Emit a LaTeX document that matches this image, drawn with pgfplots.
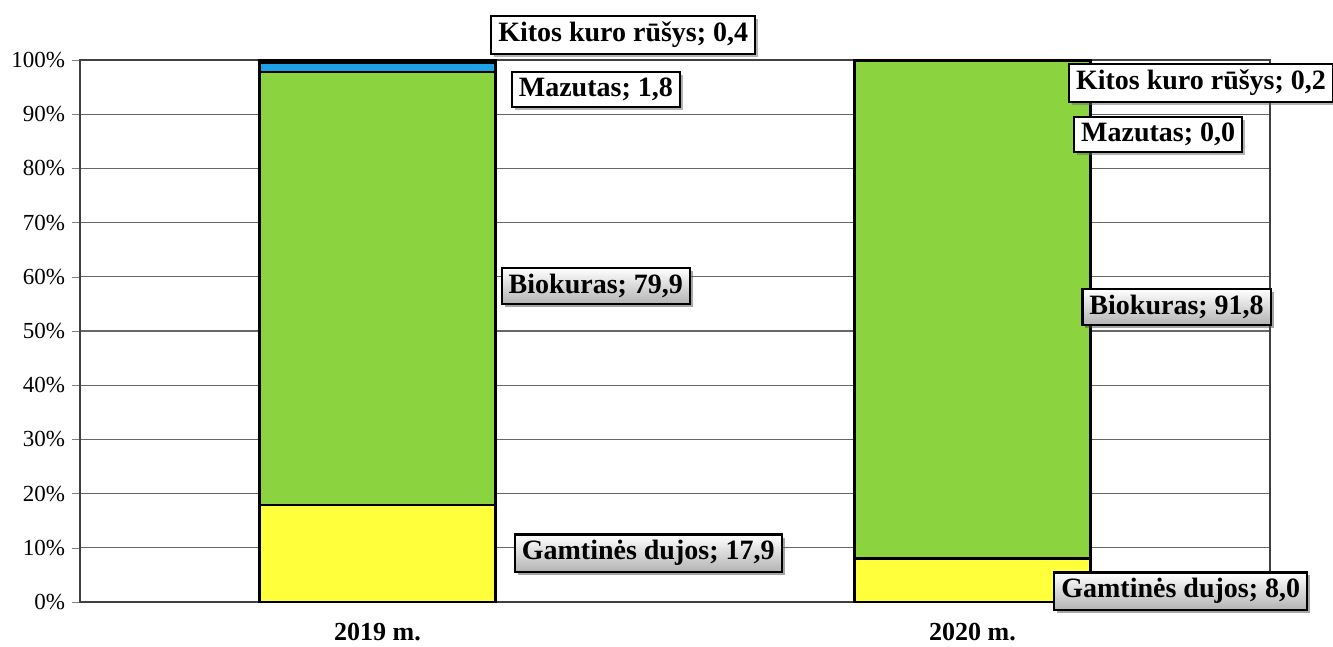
\documentclass[border=0pt]{standalone}
\usepackage{pgfplots}
\pgfplotsset{compat=1.18}
\usepackage{fontspec}
\setmainfont{Liberation Serif}
\usetikzlibrary{shadows}
\definecolor{cgas}{HTML}{FFFF3C}
\definecolor{cbio}{HTML}{8CD43F}
\definecolor{cmaz}{HTML}{1EA0E6}
\definecolor{ckit}{HTML}{5A3C78}
\begin{document}
\begin{tikzpicture}
\useasboundingbox (-40pt,-22.5pt) rectangle (626.5pt,301pt);
\begin{axis}[
  at={(0,0)}, anchor=south west,
  scale only axis, width=595pt, height=271pt,
  ybar stacked, bar width=118pt,
  xmin=-0.5, xmax=1.5, ymin=0, ymax=100,
  xtick={0,1}, xticklabels={2019 m.,2020 m.},
  x tick label style={font=\bfseries\fontsize{13}{14}\selectfont, yshift=-3pt},
  major x tick style={draw=none},
  extra x ticks={-0.5,0.5,1.5}, extra x tick labels={},
  extra x tick style={major tick length=6pt, tick align=outside, tick style={draw=black!70}},
  ytick={0,10,...,100},
  yticklabel={\pgfmathprintnumber{\tick}\%},
  /pgf/number format/assume math mode=true,
  y tick label style={font=\fontsize{11.5}{12}\selectfont},
  tick align=outside, major tick length=4pt,
  ytick pos=left, xtick pos=bottom,
  ymajorgrids, grid style={black!60, line width=0.6pt},
  axis line style={black!75, line width=0.7pt},
  clip=false,
]
\addplot[fill=cgas, draw=black, line width=1.4pt] coordinates {(0,17.9) (1,8.0)};
\addplot[fill=cbio, draw=black, line width=1.4pt] coordinates {(0,79.9) (1,91.8)};
\addplot[fill=cmaz, draw=black, line width=1.4pt] coordinates {(0,1.8) (1,0.0)};
\addplot[fill=ckit, draw=black, line width=1.4pt] coordinates {(0,0.4) (1,0.2)};
\coordinate (k19) at (axis cs:0.413,104.6);
\coordinate (m19) at (axis cs:0.367,94.6);
\coordinate (b19) at (axis cs:0.367,58.3);
\coordinate (g19) at (axis cs:0.455,9.0);
\coordinate (k20) at (axis cs:1.384,95.8);
\coordinate (m20) at (axis cs:1.312,86.2);
\coordinate (b20) at (axis cs:1.343,54.4);
\coordinate (g20) at (axis cs:1.350,2.0);
\end{axis}
\tikzset{
  wlab/.style={draw=black, line width=1.1pt, fill=white, font=\bfseries\fontsize{14}{16}\selectfont, inner xsep=3.5pt, inner ysep=3pt,
     drop shadow={shadow xshift=1.5pt, shadow yshift=-1.5pt, fill=black!60}},
  glab/.style={draw=black, line width=1.1pt, top color=white, bottom color=black!30, font=\bfseries\fontsize{14}{16}\selectfont, inner xsep=3.5pt, inner ysep=3pt,
     drop shadow={shadow xshift=1.5pt, shadow yshift=-1.5pt, fill=black!70}},
}
\node[wlab] at (k19) {Kitos kuro rūšys; 0,4};
\node[wlab] at (m19) {Mazutas; 1,8};
\node[glab] at (b19) {Biokuras; 79,9};
\node[glab] at (g19) {Gamtinės dujos; 17,9};
\node[wlab] at (k20) {Kitos kuro rūšys; 0,2};
\node[wlab] at (m20) {Mazutas; 0,0};
\node[glab] at (b20) {Biokuras; 91,8};
\node[glab] at (g20) {Gamtinės dujos; 8,0};
\end{tikzpicture}
\end{document}
